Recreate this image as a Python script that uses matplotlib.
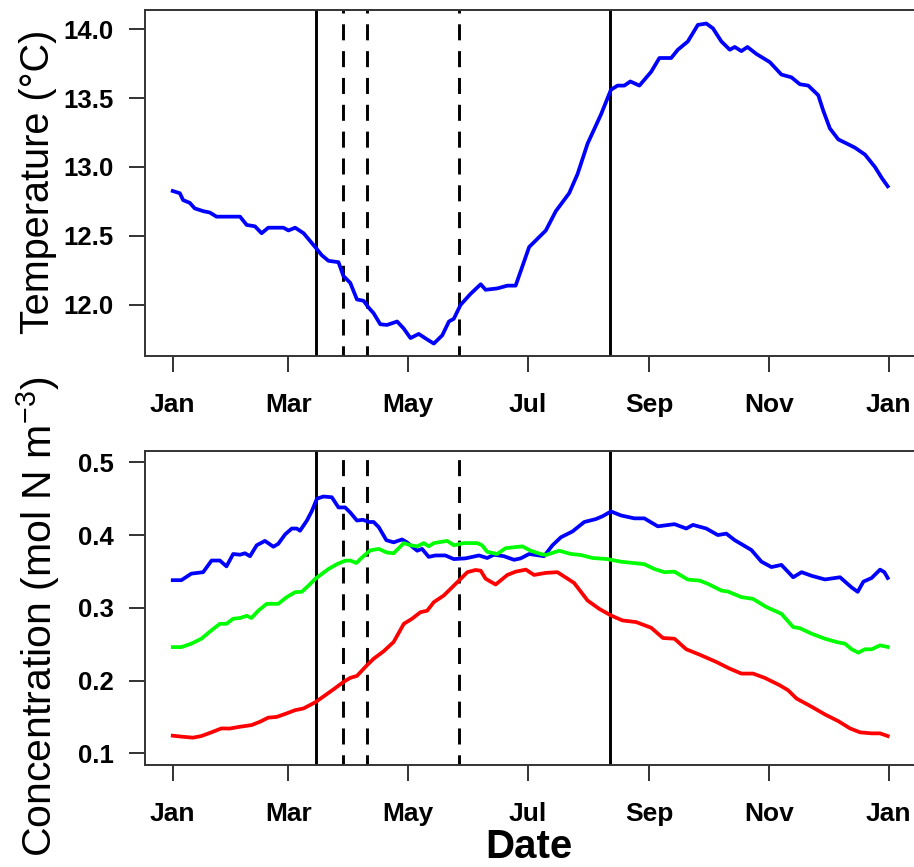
import matplotlib
matplotlib.use("Agg")
import matplotlib.pyplot as plt

plt.rcParams['font.family'] = ['Liberation Sans', 'DejaVu Sans']
plt.rcParams['mathtext.fontset'] = 'custom'
plt.rcParams['mathtext.rm'] = 'Liberation Sans'
plt.rcParams['mathtext.it'] = 'Liberation Sans'

# ---- data (day of year) ----
month_ticks = [0, 59, 120, 181, 243, 304, 365]
month_labels = ["Jan", "Mar", "May", "Jul", "Sep", "Nov", "Jan"]

solid_days = [73.0, 222.9]
dashed_days = [87.0, 99.2, 145.9]

temp_day = [0, 3.6, 5.3, 8.7, 11.2, 15.5, 18.9, 22.3, 27.4, 34.3, 37.7, 41.9, 45.3, 48.7, 56.4,
            59, 62.4, 66.7, 72.6, 76, 79.4, 84.5, 87, 90.5, 93.9, 97.3, 99.9, 102.4, 105.8, 109.2,
            114.4, 117.7, 121.2, 125.4, 129.7, 133.1, 137.4, 140.8, 143.3, 146.7, 151.8, 157, 159.5,
            165.5, 170.6, 174.8, 181.7, 190.2, 195.3, 202.1, 206.4, 211.5, 218.3, 223.4, 226.8,
            230.2, 233.3, 237.9, 243.9, 248.1, 254.1, 257.5, 262.6, 267.7, 272, 275.4, 279.7, 284,
            286.5, 289.9, 293, 297.5, 304.4, 310.3, 315.4, 319.7, 324, 329.1, 331.6, 335, 339.3,
            343.6, 347.8, 352.9, 358, 361.5, 364.5]
temp_val = [12.826, 12.81, 12.76, 12.74, 12.70, 12.68, 12.67, 12.64, 12.64, 12.64, 12.58, 12.57,
            12.52, 12.56, 12.56, 12.54, 12.56, 12.52, 12.42, 12.36, 12.32, 12.31, 12.21, 12.16,
            12.04, 12.03, 11.98, 11.94, 11.86, 11.855, 11.88, 11.83, 11.76, 11.79, 11.75, 11.72,
            11.78, 11.88, 11.90, 12.0, 12.08, 12.15, 12.11, 12.12, 12.14, 12.14, 12.42, 12.54,
            12.68, 12.81, 12.95, 13.17, 13.38, 13.56, 13.59, 13.59, 13.62, 13.59, 13.69, 13.79,
            13.79, 13.85, 13.91, 14.03, 14.04, 14.005, 13.91, 13.85, 13.87, 13.84, 13.87, 13.82,
            13.76, 13.67, 13.65, 13.60, 13.59, 13.52, 13.41, 13.28, 13.20, 13.17, 13.14, 13.09,
            13.0, 12.92, 12.86]

blue_day = [0, 4.4, 9.5, 15.5, 19.8, 24, 27.4, 30.8, 34.3, 36.8, 39.4, 42.8, 47, 51.3, 53.8, 57.3,
            60.7, 63.2, 64.9, 68.4, 70.9, 73.5, 76.8, 81.1, 84.5, 87.9, 90.5, 93.9, 97, 99.9, 102.4,
            105, 108.9, 112.6, 116.9, 119.4, 124.6, 127.1, 130.5, 133.9, 139, 143.3, 149.3, 156.1,
            160.3, 163.7, 168.8, 174, 177.4, 181.7, 189.3, 193.6, 197.9, 203.8, 209.8, 215.7, 219.2,
            223.4, 228.5, 235.3, 240.4, 247.3, 255.8, 261.8, 265.2, 272, 277.9, 282.2, 286.5, 295,
            300.1, 305.2, 310.3, 316.3, 320.6, 325.7, 332.5, 340.2, 346.1, 349.2, 352.1, 356.3,
            360.6, 362.8, 364.5]
blue_val = [0.338, 0.338, 0.347, 0.349, 0.365, 0.365, 0.357, 0.374, 0.373, 0.375, 0.371, 0.386,
            0.392, 0.384, 0.388, 0.401, 0.409, 0.409, 0.406, 0.420, 0.433, 0.450, 0.453, 0.452,
            0.438, 0.438, 0.431, 0.420, 0.421, 0.418, 0.418, 0.411, 0.393, 0.390, 0.394, 0.390,
            0.3785, 0.381, 0.370, 0.372, 0.372, 0.367, 0.368, 0.372, 0.3685, 0.373, 0.371, 0.366,
            0.368, 0.374, 0.371, 0.386, 0.397, 0.405, 0.418, 0.422, 0.426, 0.4325, 0.427, 0.423,
            0.423, 0.412, 0.415, 0.409, 0.414, 0.409, 0.400, 0.402, 0.393, 0.3795, 0.3635, 0.356,
            0.359, 0.342, 0.349, 0.344, 0.339, 0.342, 0.328, 0.322, 0.336, 0.341, 0.3525, 0.349,
            0.341]

green_day = [0, 4.4, 9.5, 14.6, 19.7, 24, 27.4, 30.8, 34.3, 37.7, 40.1, 43.6, 47.9, 53.8, 58.1,
             62.4, 65.8, 69.2, 72.6, 76, 79.4, 83.7, 87.9, 90.5, 93.6, 96.4, 100.7, 105, 109.2,
             112.6, 117.8, 121.2, 124.6, 128, 130.5, 133.1, 139.9, 143.3, 148.4, 155.2, 157.7,
             160.3, 165.4, 169.7, 178.2, 182.5, 187.6, 190.2, 197, 203, 208.1, 214, 221.6, 223.4,
             228.5, 240.4, 245.5, 250.6, 255.8, 262.6, 268.6, 272.8, 279.7, 283, 289.9, 295.8,
             302.7, 310.3, 316.3, 319.7, 325.7, 332.5, 338.4, 342.7, 346.1, 349.5, 352.9, 356.3,
             360.6, 364.5]
green_val = [0.246, 0.246, 0.2507, 0.2575, 0.269, 0.278, 0.278, 0.285, 0.286, 0.289, 0.286,
             0.296, 0.3055, 0.3055, 0.3147, 0.3215, 0.322, 0.3305, 0.3397, 0.3466, 0.3534, 0.360,
             0.3648, 0.365, 0.3616, 0.369, 0.379, 0.381, 0.376, 0.375, 0.389, 0.386, 0.3845,
             0.389, 0.3845, 0.389, 0.392, 0.386, 0.389, 0.389, 0.386, 0.377, 0.374, 0.382, 0.3845,
             0.3785, 0.374, 0.3726, 0.3785, 0.374, 0.3726, 0.3685, 0.367, 0.366, 0.3634, 0.360,
             0.3534, 0.349, 0.3497, 0.3388, 0.3374, 0.333, 0.3237, 0.3224, 0.3147, 0.3123, 0.301,
             0.2918, 0.2735, 0.272, 0.2644, 0.2575, 0.253, 0.2507, 0.243, 0.2384, 0.243, 0.243,
             0.2484, 0.2462]

red_day = [0, 4.4, 10.3, 14.6, 19.7, 24.8, 29, 34.3, 40.2, 44.5, 48.7, 53, 58, 62.4, 66.6, 72.6,
           76.8, 82, 87, 90.5, 93.9, 99, 102.4, 107.4, 112.6, 117.8, 122, 126.3, 129.7, 133.1,
           138.2, 141.6, 145.9, 150.2, 154.4, 157, 159.5, 164.6, 170.6, 174.8, 180, 184.2, 190.2,
           196.1, 201.3, 204.6, 211.5, 217.4, 223.4, 229.3, 236.2, 243.9, 249.9, 255.8, 261.8,
           268.6, 277.1, 283.9, 289.9, 295.8, 301.8, 309.4, 313.7, 318, 325.7, 332.5, 339.3,
           345.3, 350.4, 356.3, 360.6, 364.5]
red_val = [0.1242, 0.1229, 0.1215, 0.1237, 0.1288, 0.1342, 0.134, 0.1365, 0.1388, 0.1434, 0.149,
           0.150, 0.1548, 0.1593, 0.1616, 0.170, 0.178, 0.188, 0.198, 0.2037, 0.2064, 0.221, 0.230,
           0.240, 0.253, 0.278, 0.285, 0.294, 0.296, 0.3078, 0.317, 0.326, 0.3374, 0.349, 0.352,
           0.351, 0.340, 0.332, 0.3452, 0.3497, 0.3525, 0.3452, 0.348, 0.349, 0.340, 0.3342,
           0.310, 0.2986, 0.2895, 0.2826, 0.2804, 0.2726, 0.2585, 0.2575, 0.243, 0.2356, 0.2256,
           0.2164, 0.2096, 0.2096, 0.2037, 0.1936, 0.1867, 0.1753, 0.164, 0.1534, 0.1442, 0.1342,
           0.1288, 0.1274, 0.1274, 0.1237]

temp_ticks = [12.0, 12.5, 13.0, 13.5, 14.0]
conc_ticks = [0.1, 0.2, 0.3, 0.4, 0.5]

# ---- figure ----
W, H = 914, 867
fig = plt.figure(figsize=(W / 100, H / 100), dpi=100)

def fx(px):
    return px / W

def fy(py):
    return 1 - py / H

left = 144.7
ax1 = fig.add_axes([fx(left), fy(356), fx(W - left), (356 - 10) / H])
ax2 = fig.add_axes([fx(left), fy(765), fx(W - left), (765 - 450.7) / H])

spine_col = '#333333'
for ax in (ax1, ax2):
    ax.set_xlim(-14.3, 377.9)
    for s in ('top', 'left', 'bottom'):
        ax.spines[s].set_color(spine_col)
        ax.spines[s].set_linewidth(1.4)
    ax.spines['right'].set_visible(False)
    ax.set_xticks(month_ticks)
    ax.set_xticklabels(month_labels, fontsize=19, fontweight='bold')
    ax.tick_params(axis='x', length=11.5, width=1.3, pad=15, color='#222222')
    ax.tick_params(axis='y', length=11.5, width=1.3, pad=11, color='#222222')
    for d in solid_days:
        ax.axvline(d, color='black', lw=2.1)
    for d in dashed_days:
        ax.axvline(d, color='black', lw=2.1, ls=(2, (5.5, 3.7)))

ax1.set_ylim(11.630, 14.138)
ax1.set_yticks(temp_ticks)
ax1.set_yticklabels([f"{t:.1f}" for t in temp_ticks], fontsize=18.5, fontweight='bold')
ax1.plot(temp_day, temp_val, color='#0000FF', lw=2.7, solid_joinstyle='round')

ax2.set_ylim(0.0839, 0.516)
ax2.set_yticks(conc_ticks)
ax2.set_yticklabels([f"{t:.1f}" for t in conc_ticks], fontsize=18.5, fontweight='bold')
ax2.plot(blue_day, blue_val, color='#0000FF', lw=2.7, solid_joinstyle='round')
ax2.plot(green_day, green_val, color='#00FF00', lw=2.7, solid_joinstyle='round')
ax2.plot(red_day, red_val, color='#FF0000', lw=2.7, solid_joinstyle='round')

fig.text(fx(38), fy(182), "Temperature (°C)", rotation=90, ha='center', va='center', fontsize=28.5)
fig.text(fx(38), fy(617), r"Concentration (mol N m$^{-3}$)", rotation=90, ha='center',
         va='center', fontsize=29.5)
fig.text(fx(529), fy(847), "Date", ha='center', va='center', fontsize=29, fontweight='bold')

fig.savefig("out.png", dpi=100)
